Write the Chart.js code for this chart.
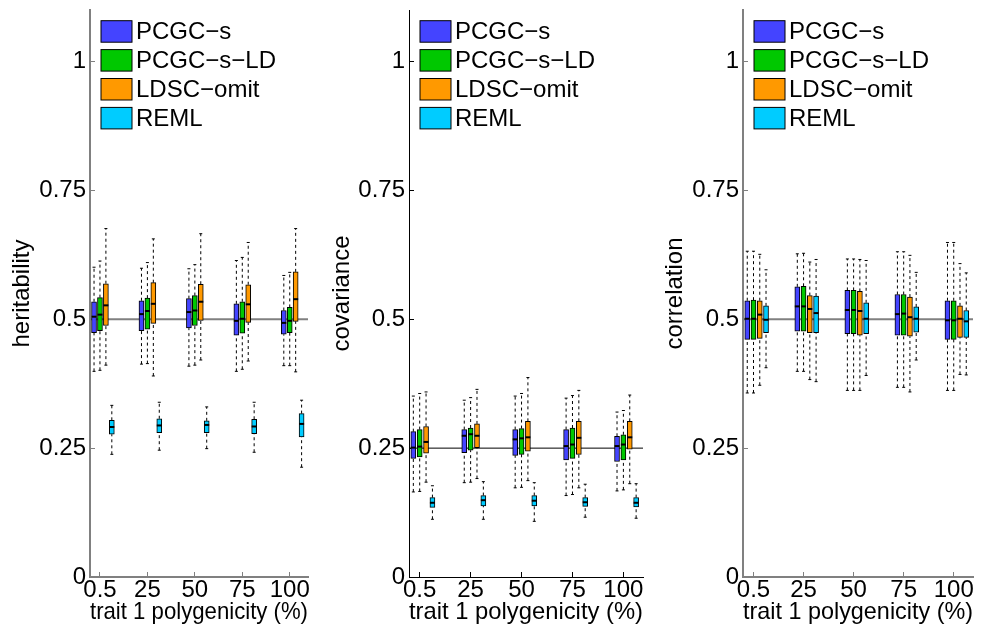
<!DOCTYPE html>
<html>
<head>
<meta charset="utf-8">
<script src="https://cdn.jsdelivr.net/npm/chart.js@4.4.1/dist/chart.umd.min.js"></script>
<style>
  body { margin: 0; background: #fff; width: 985px; height: 632px; position: relative; overflow: hidden; }
  .panel { position: absolute; top: 0; height: 632px; }
</style>
</head>
<body>
<div class="panel" style="left:0;width:320px"><canvas id="her"></canvas></div>
<div class="panel" style="left:320px;width:333px"><canvas id="cov"></canvas></div>
<div class="panel" style="left:653px;width:332px"><canvas id="cor"></canvas></div>
<script>
const xTickLabels = ['0.5', '25', '50', '75', '100'];
const yTicks = [0, 0.25, 0.5, 0.75, 1];
const seriesNames = ['PCGC\u2212s', 'PCGC\u2212s\u2212LD', 'LDSC\u2212omit', 'REML'];
const seriesColors = ['#4444ff', '#00c800', '#ff9900', '#00ccff'];

// each row: [lower whisker, q1, median, q3, upper whisker]
const herPCGCs   = [[0.399, 0.474, 0.505, 0.534, 0.601], [0.413, 0.478, 0.510, 0.536, 0.599], [0.409, 0.483, 0.514, 0.540, 0.598], [0.399, 0.469, 0.497, 0.530, 0.614], [0.410, 0.471, 0.493, 0.517, 0.585]];
const herPCGCsLD = [[0.401, 0.478, 0.509, 0.542, 0.613], [0.414, 0.481, 0.516, 0.541, 0.610], [0.411, 0.488, 0.517, 0.546, 0.606], [0.403, 0.473, 0.501, 0.534, 0.620], [0.410, 0.474, 0.497, 0.523, 0.591]];
const herLDSC    = [[0.411, 0.488, 0.527, 0.569, 0.676], [0.390, 0.492, 0.530, 0.571, 0.656], [0.421, 0.498, 0.534, 0.568, 0.666], [0.419, 0.494, 0.529, 0.567, 0.649], [0.398, 0.496, 0.539, 0.592, 0.676]];
const herREML    = [[0.238, 0.277, 0.291, 0.304, 0.333], [0.246, 0.280, 0.294, 0.307, 0.339], [0.249, 0.280, 0.295, 0.303, 0.330], [0.242, 0.278, 0.292, 0.306, 0.339], [0.213, 0.272, 0.297, 0.317, 0.343]];

const covPCGCs   = [[0.165, 0.230, 0.251, 0.282, 0.351], [0.183, 0.241, 0.274, 0.286, 0.343], [0.173, 0.236, 0.267, 0.286, 0.351], [0.158, 0.227, 0.254, 0.286, 0.347], [0.167, 0.224, 0.254, 0.273, 0.320]];
const covPCGCsLD = [[0.166, 0.233, 0.253, 0.286, 0.356], [0.184, 0.246, 0.277, 0.289, 0.348], [0.174, 0.238, 0.269, 0.288, 0.356], [0.160, 0.230, 0.257, 0.289, 0.352], [0.169, 0.227, 0.257, 0.276, 0.323]];
const covLDSC    = [[0.184, 0.240, 0.262, 0.292, 0.359], [0.191, 0.251, 0.274, 0.297, 0.364], [0.187, 0.244, 0.271, 0.302, 0.387], [0.173, 0.238, 0.270, 0.302, 0.362], [0.181, 0.248, 0.271, 0.302, 0.353]];
const covREML    = [[0.112, 0.135, 0.144, 0.154, 0.177], [0.112, 0.138, 0.149, 0.158, 0.185], [0.108, 0.138, 0.148, 0.158, 0.183], [0.116, 0.137, 0.145, 0.154, 0.180], [0.114, 0.136, 0.144, 0.154, 0.181]];

const corPCGCs   = [[0.357, 0.461, 0.501, 0.536, 0.632], [0.399, 0.477, 0.525, 0.563, 0.627], [0.362, 0.472, 0.518, 0.556, 0.617], [0.368, 0.469, 0.510, 0.548, 0.631], [0.362, 0.461, 0.498, 0.536, 0.649]];
const corPCGCsLD = [[0.357, 0.461, 0.501, 0.537, 0.632], [0.399, 0.477, 0.525, 0.564, 0.628], [0.362, 0.472, 0.518, 0.556, 0.617], [0.368, 0.469, 0.511, 0.548, 0.631], [0.362, 0.461, 0.498, 0.536, 0.649]];
const corLDSC    = [[0.372, 0.463, 0.509, 0.536, 0.626], [0.383, 0.474, 0.520, 0.546, 0.611], [0.362, 0.469, 0.516, 0.554, 0.616], [0.359, 0.467, 0.504, 0.543, 0.624], [0.393, 0.465, 0.501, 0.526, 0.608]];
const corREML    = [[0.406, 0.474, 0.499, 0.526, 0.596], [0.379, 0.474, 0.512, 0.545, 0.616], [0.391, 0.472, 0.501, 0.532, 0.614], [0.421, 0.475, 0.501, 0.524, 0.591], [0.392, 0.465, 0.496, 0.517, 0.590]];

const refValues = [0.5, 0.25, 0.5];

// group layout on the x axis (group index units)
const boxOffsets = [0, 0.125, 0.25, 0.375];
const tickShift = 0.125;
const xMin = -0.085, xMax = 4.51;

const FONT = '"Liberation Sans", Arial, Helvetica, sans-serif';
Chart.defaults.font.family = FONT;
Chart.defaults.font.size = 24;
Chart.defaults.color = '#000';

// legend drawn inside the plot, top left
const boxLegend = {
  id: 'boxLegend',
  afterDraw(chart) {
    const ctx = chart.ctx, area = chart.chartArea;
    const items = chart.data.datasets.filter(d => d.isBox);
    ctx.save();
    ctx.font = '24px ' + FONT;
    ctx.textBaseline = 'middle';
    items.forEach((d, i) => {
      const x = area.left + 11, y = area.top + 10.7 + i * 28.9;
      ctx.fillStyle = d.backgroundColor;
      ctx.fillRect(x, y, 31, 21.5);
      ctx.strokeStyle = '#000';
      ctx.lineWidth = 1;
      ctx.strokeRect(x, y, 31, 21.5);
      ctx.fillStyle = '#000';
      ctx.fillText(d.label, x + 35, y + 11.5);
    });
    ctx.restore();
  }
};

function boxDatasets(rows, j) {
  const xs = rows.map((r, g) => g + boxOffsets[j]);
  const box = {
    type: 'bar', label: seriesNames[j], isBox: true,
    data: rows.map((r, g) => ({ x: xs[g], y: [r[1], r[3]] })),
    backgroundColor: seriesColors[j], borderColor: '#000', borderWidth: 1,
    borderSkipped: false, barThickness: 5, grouped: false, order: 5
  };
  const whisk = {
    type: 'line',
    data: rows.flatMap((r, g) => [
      { x: xs[g], y: r[0] }, { x: xs[g], y: r[1] }, { x: xs[g], y: null },
      { x: xs[g], y: r[3] }, { x: xs[g], y: r[4] }, { x: xs[g], y: null }
    ]),
    borderColor: '#000', borderWidth: 1, borderDash: [3, 3], pointRadius: 0, tension: 0, order: 6
  };
  const caps = {
    type: 'line', showLine: false,
    data: rows.flatMap((r, g) => [{ x: xs[g], y: r[0] }, { x: xs[g], y: r[4] }]),
    pointStyle: 'line', pointRadius: 1.5, borderColor: '#000', borderWidth: 1, order: 2
  };
  const med = {
    type: 'line', showLine: false,
    data: rows.map((r, g) => ({ x: xs[g], y: r[2] })),
    pointStyle: 'line', pointRadius: 2.5, borderColor: '#000', borderWidth: 2, order: 1
  };
  return [box, whisk, caps, med];
}

function makePanel(id, yTitle, series, ref, yAxisWidth, padRight, axisColor, axisWidth) {
  const datasets = [];
  series.forEach((rows, j) => datasets.push(...boxDatasets(rows, j)));
  datasets.push({
    type: 'line', data: [{ x: xMin, y: ref }, { x: xMax, y: ref }],
    borderColor: axisColor, borderWidth: axisWidth, pointRadius: 0, order: 10
  });

  new Chart(document.getElementById(id), {
    type: 'bar',
    data: { datasets },
    options: {
      responsive: true,
      maintainAspectRatio: false,
      animation: false,
      layout: { padding: { top: 10, right: padRight, left: 0, bottom: 0 } },
      plugins: { legend: { display: false }, tooltip: { enabled: false } },
      scales: {
        x: {
          type: 'linear', min: xMin, max: xMax, offset: false,
          afterBuildTicks: s => { s.ticks = xTickLabels.map((_, g) => ({ value: g + tickShift })); },
          ticks: { callback: (v, i) => xTickLabels[i], padding: 4, maxRotation: 0, autoSkip: false },
          grid: { drawOnChartArea: false, offset: false, tickLength: -5, color: axisColor },
          border: { color: axisColor, width: axisWidth },
          title: { display: true, text: 'trait 1 polygenicity (%)', padding: { top: 0, bottom: 5 } },
          afterFit: s => { s.height = 55; s.paddingLeft = 0; s.paddingRight = 0; }
        },
        y: {
          min: 0, max: 1.1,
          afterBuildTicks: s => { s.ticks = yTicks.map(v => ({ value: v })); },
          ticks: { callback: v => String(v), padding: 9 },
          grid: { drawOnChartArea: false, tickLength: -5, color: axisColor },
          border: { color: axisColor, width: axisWidth },
          title: { display: true, text: yTitle, padding: { top: 8, bottom: 0 } },
          afterFit: s => { s.width = yAxisWidth; s.paddingTop = 0; s.paddingBottom = 0; }
        }
      }
    },
    plugins: [boxLegend]
  });
}

makePanel('her', 'heritability', [herPCGCs, herPCGCsLD, herLDSC, herREML], refValues[0], 90, 12, '#808080', 2);
makePanel('cov', 'covariance', [covPCGCs, covPCGCsLD, covLDSC, covREML], refValues[1], 89, 10, '#000', 1);
makePanel('cor', 'correlation', [corPCGCs, corPCGCsLD, corLDSC, corREML], refValues[2], 90, 12, '#808080', 2);
</script>
</body>
</html>
